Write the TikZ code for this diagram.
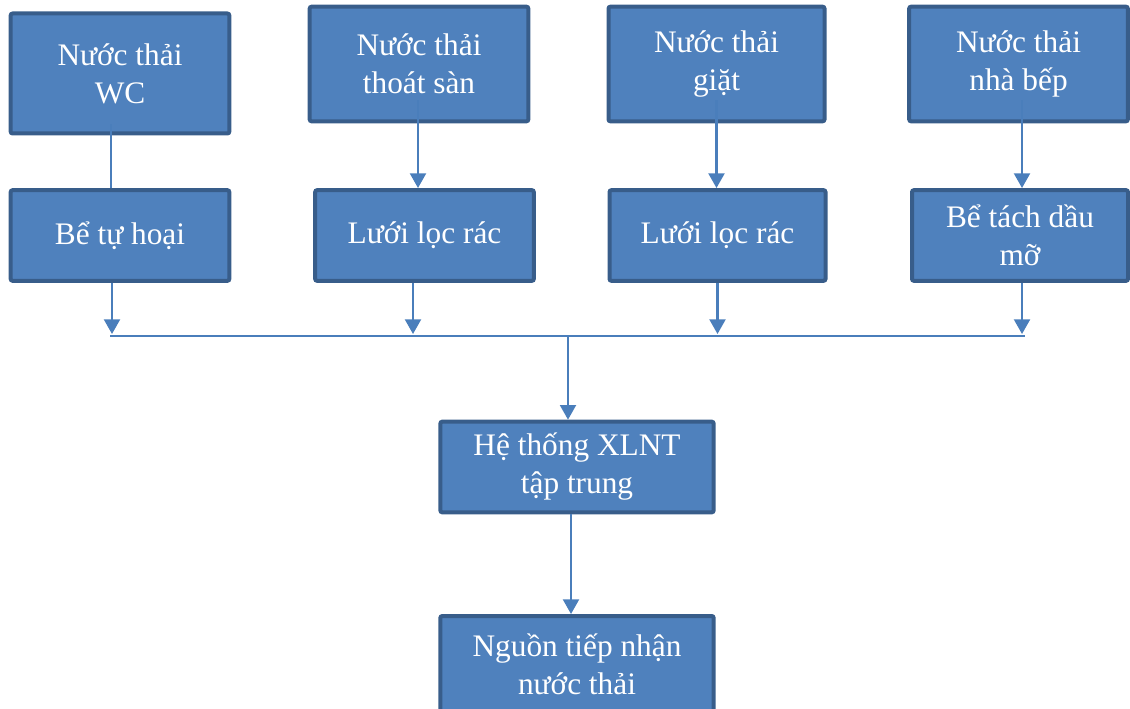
\documentclass[tikz,border=0pt]{standalone}
\usepackage{fontspec}
\setmainfont{Liberation Serif}
\usetikzlibrary{calc,arrows.meta}
\definecolor{boxfill}{HTML}{4F81BD}
\definecolor{boxedge}{HTML}{385D8A}
\definecolor{flowline}{HTML}{4A7EBB}

\begin{document}
\begin{tikzpicture}[x=0.75pt, y=-0.75pt,
    block/.style={draw=boxedge, fill=boxfill, line width=3pt, rounded corners=1.5pt,
      text=white, align=center, inner sep=0pt,
      font=\fontsize{23.5}{28.5}\selectfont},
    flow/.style={draw=flowline, line width=1.6pt, -{Triangle[width=12pt,length=11pt]}},
    bus/.style={draw=flowline, line width=1.6pt}]
			%%%%% START %%%%%
			\useasboundingbox (0,0) rectangle (1130,709);
			
			% sources
			\node[block, minimum width=164pt, minimum height=90pt] (wc) at (120,73.5) {Nước thải\\WC};
			\node[block, minimum width=164pt, minimum height=86pt] (san) at (419,64) {Nước thải\\thoát sàn};
			\node[block, minimum width=162pt, minimum height=86pt] (giat) at (716.5,64) {Nước thải\\giặt};
			\node[block, minimum width=164pt, minimum height=86pt] (bep) at (1018.5,64) {Nước thải\\nhà bếp};
			
			\draw[flow] ($(wc.south)+(-9,-11)$) coordinate (a1) -- ($(a1 |- wc.south)+(0,77)$);
			\draw[flow] ($(san.south)+(-1,-23)$) coordinate (a2) -- (a2 |- 0,188);
			\draw[flow] ($(giat.south)+(0,-23)$) coordinate (a3) -- (a3 |- 0,188);
			\draw[flow] ($(bep.south)+(3.5,-23)$) coordinate (a4) -- (a4 |- 0,188);
			
			% pre-treatment
			\node[block, minimum width=164pt, minimum height=68pt] (tuhoai) at (120,235.5) {Bể tự hoại};
			\node[block, minimum width=164pt, minimum height=68pt] (loc1) at (424.5,235.5) {Lưới lọc rác};
			\node[block, minimum width=162pt, minimum height=68pt] (loc2) at (717.5,235.5) {Lưới lọc rác};
			\node[block, minimum width=162pt, minimum height=68pt] (dau) at (1020,235.5) {Bể tách dầu\\mỡ};
			
			\coordinate (busL) at (110,336);
			\coordinate (busR) at (1025,336);
			\coordinate (busM) at (568,336);
			\draw[bus] (busL) -- (busR);
			
			\draw[flow] ($(tuhoai.south)+(-8,0)$) coordinate (b1) -- ($(b1 |- busL)+(0,-2)$);
			\draw[flow] ($(loc1.south)+(-11.5,0)$) coordinate (b2) -- ($(b2 |- busL)+(0,-2)$);
			\draw[flow] ($(loc2.south)+(0,0)$) coordinate (b3) -- ($(b3 |- busL)+(0,-2)$);
			\draw[flow] ($(dau.south)+(2,0)$) coordinate (b4) -- ($(b4 |- busL)+(0,-2)$);
			
			% treatment
			\node[block, minimum width=205pt, minimum height=68pt] (xlnt) at (577,467) {Hệ thống XLNT\\tập trung};
			\node[block, minimum width=205pt, minimum height=72pt] (nguon) at (577,664) {Nguồn tiếp nhận\\nước thải};
			
			\draw[flow] (busM) -- (busM |- xlnt.north);
			\draw[flow] ($(xlnt.south)+(-6,0)$) coordinate (c1) -- (c1 |- nguon.north);
			
			%%%%% END %%%%%
\end{tikzpicture}
\end{document}
